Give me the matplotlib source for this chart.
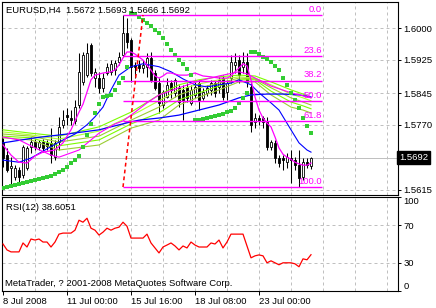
import matplotlib
matplotlib.use("Agg")
import matplotlib.pyplot as plt
import matplotlib.transforms as mtransforms

plt.rcParams['font.family'] = ['Liberation Sans', 'DejaVu Sans']

# ---- EURUSD H4 candles (one entry per bar) ----
opens = [1.5729, 1.5698, 1.5667, 1.5646, 1.5662, 1.5651, 1.5667, 1.5717, 1.5729, 1.5717,
         1.5729, 1.5727, 1.5727, 1.5693, 1.5729, 1.5770, 1.5793, 1.5786, 1.5779, 1.5817,
         1.5872, 1.5888, 1.5960, 1.5881, 1.5881, 1.5858, 1.5893, 1.5896, 1.5900, 1.5919,
         1.5936, 1.5988, 1.5972, 1.5912, 1.5912, 1.5905, 1.5908, 1.5929, 1.5893, 1.5869,
         1.5817, 1.5836, 1.5869, 1.5846, 1.5858, 1.5853, 1.5860, 1.5822, 1.5841, 1.5869,
         1.5834, 1.5846, 1.5853, 1.5869, 1.5860, 1.5881, 1.5848, 1.5881, 1.5912, 1.5924,
         1.5908, 1.5919, 1.5860, 1.5777, 1.5786, 1.5786, 1.5777, 1.5717, 1.5727, 1.5691,
         1.5691, 1.5681, 1.5691, 1.5686, 1.5674, 1.5646, 1.5681, 1.5672]
highs = [1.5739, 1.5715, 1.5693, 1.5674, 1.5670, 1.5722, 1.5720, 1.5741, 1.5736, 1.5734,
         1.5736, 1.5734, 1.5762, 1.5734, 1.5789, 1.5805, 1.5810, 1.5805, 1.5829, 1.5941,
         1.5943, 1.5965, 1.5965, 1.5905, 1.5896, 1.5893, 1.5917, 1.5924, 1.5924, 1.5943,
         1.6031, 1.6024, 1.5977, 1.5919, 1.5924, 1.5924, 1.5941, 1.5943, 1.5900, 1.5881,
         1.5853, 1.5881, 1.5877, 1.5881, 1.5865, 1.5865, 1.5869, 1.5865, 1.5872, 1.5877,
         1.5858, 1.5865, 1.5877, 1.5877, 1.5884, 1.5888, 1.5877, 1.5936, 1.5941, 1.5936,
         1.5943, 1.5941, 1.5869, 1.5798, 1.5793, 1.5791, 1.5789, 1.5734, 1.5734, 1.5698,
         1.5698, 1.5703, 1.5710, 1.5693, 1.5710, 1.5691, 1.5691, 1.5693]
lows = [1.5670, 1.5658, 1.5622, 1.5639, 1.5634, 1.5643, 1.5662, 1.5703, 1.5710, 1.5710,
        1.5705, 1.5710, 1.5679, 1.5686, 1.5710, 1.5762, 1.5770, 1.5770, 1.5772, 1.5810,
        1.5865, 1.5884, 1.5886, 1.5860, 1.5846, 1.5848, 1.5888, 1.5888, 1.5888, 1.5912,
        1.5931, 1.5953, 1.5872, 1.5881, 1.5896, 1.5893, 1.5884, 1.5872, 1.5853, 1.5798,
        1.5810, 1.5834, 1.5834, 1.5836, 1.5812, 1.5781, 1.5824, 1.5817, 1.5834, 1.5805,
        1.5829, 1.5838, 1.5841, 1.5836, 1.5846, 1.5829, 1.5829, 1.5869, 1.5893, 1.5869,
        1.5893, 1.5860, 1.5753, 1.5762, 1.5770, 1.5762, 1.5710, 1.5710, 1.5679, 1.5670,
        1.5662, 1.5667, 1.5631, 1.5662, 1.5622, 1.5639, 1.5667, 1.5666]
closes = [1.5691, 1.5662, 1.5672, 1.5667, 1.5646, 1.5717, 1.5715, 1.5729, 1.5717, 1.5729,
          1.5715, 1.5720, 1.5698, 1.5727, 1.5765, 1.5781, 1.5789, 1.5781, 1.5812, 1.5896,
          1.5936, 1.5941, 1.5893, 1.5896, 1.5858, 1.5881, 1.5908, 1.5915, 1.5917, 1.5931,
          1.5988, 1.5967, 1.5908, 1.5908, 1.5905, 1.5912, 1.5929, 1.5877, 1.5858, 1.5822,
          1.5848, 1.5865, 1.5853, 1.5877, 1.5824, 1.5829, 1.5834, 1.5853, 1.5860, 1.5829,
          1.5848, 1.5858, 1.5869, 1.5846, 1.5877, 1.5836, 1.5869, 1.5919, 1.5919, 1.5888,
          1.5919, 1.5872, 1.5770, 1.5786, 1.5779, 1.5777, 1.5717, 1.5729, 1.5691, 1.5679,
          1.5686, 1.5693, 1.5686, 1.5674, 1.5643, 1.5681, 1.5674, 1.5692]

# ---- parabolic SAR ----
sar = [1.5620, 1.5622, 1.5624, 1.5627, 1.5629, 1.5631, 1.5634, 1.5636, 1.5639, 1.5641,
       1.5643, 1.5646, 1.5648, 1.5653, 1.5658, 1.5662, 1.5670, 1.5679, 1.5686, 1.5696,
       1.5717, 1.5746, 1.5772, 1.5798, 1.5819, 1.5836, 1.5838, 1.5841, 1.5853, 1.5869,
       1.5881, 1.5908, 1.6036, 1.6034, 1.6027, 1.6019, 1.6012, 1.6005, 1.5996, 1.5988,
       1.5977, 1.5962, 1.5948, 1.5936, 1.5924, 1.5915, 1.5903, 1.5888, 1.5781, 1.5781,
       1.5784, 1.5786, 1.5789, 1.5791, 1.5793, 1.5796, 1.5800, 1.5803, 1.5810, 1.5822,
       1.5834, 1.5846, 1.5943, 1.5943, 1.5938, 1.5931, 1.5927, 1.5919, 1.5910, 1.5900,
       1.5881, 1.5865, 1.5846, 1.5829, 1.5810, 1.5786, 1.5767, 1.5750]

# ---- moving averages (bar index, price) ----
ma_fast_x = [0, 2, 4, 6, 8, 10, 13, 15, 17, 19, 20, 21, 22, 23, 25, 27, 28, 29, 30, 31,
             32, 33, 35, 36, 37, 38, 39, 40, 41, 42, 44, 46, 48, 50, 52, 54, 56, 57, 58, 59,
             60, 61, 62, 63, 64, 65, 66, 67, 68, 69, 70, 71, 72, 73, 74, 75, 76, 77]
ma_fast = [1.5722, 1.5698, 1.5681, 1.5679, 1.5696, 1.5705, 1.5710, 1.5727, 1.5758, 1.5800,
           1.5819, 1.5848, 1.5877, 1.5888, 1.5893, 1.5896, 1.5900, 1.5912, 1.5929, 1.5943,
           1.5943, 1.5938, 1.5924, 1.5912, 1.5900, 1.5886, 1.5881, 1.5886, 1.5893, 1.5893,
           1.5888, 1.5888, 1.5893, 1.5886, 1.5884, 1.5881, 1.5881, 1.5886, 1.5896, 1.5905,
           1.5915, 1.5910, 1.5877, 1.5836, 1.5805, 1.5786, 1.5774, 1.5765, 1.5741, 1.5715,
           1.5700, 1.5693, 1.5688, 1.5681, 1.5677, 1.5674, 1.5674, 1.5679]
ma_slow_x = [0, 4, 8, 12, 14, 19, 24, 28, 30, 33, 36, 39, 44, 49, 54, 59, 61, 63, 67, 72, 75, 77]
ma_slow = [1.5741, 1.5734, 1.5715, 1.5698, 1.5693, 1.5710, 1.5750, 1.5772, 1.5779, 1.5800,
           1.5822, 1.5841, 1.5858, 1.5874, 1.5886, 1.5896, 1.5891, 1.5881, 1.5862, 1.5846,
           1.5839, 1.5834]
blue_mid_x = [0, 4, 7, 14, 18, 21, 23, 25, 27, 29, 32, 35, 39, 42, 45, 48, 51, 54, 57, 59,
              62, 64, 67, 69, 72, 74, 76, 77]
blue_mid = [1.5686, 1.5681, 1.5691, 1.5729, 1.5748, 1.5770, 1.5789, 1.5812, 1.5853, 1.5888,
            1.5908, 1.5915, 1.5908, 1.5896, 1.5879, 1.5865, 1.5860, 1.5865, 1.5869, 1.5877,
            1.5865, 1.5846, 1.5822, 1.5805, 1.5758, 1.5727, 1.5710, 1.5705]
blue_long_x = [0, 8, 16, 24, 32, 34, 39, 44, 49, 54, 59, 62, 66, 70, 74, 77]
blue_long = [1.5727, 1.5739, 1.5748, 1.5758, 1.5777, 1.5781, 1.5786, 1.5793, 1.5805, 1.5817,
             1.5834, 1.5841, 1.5843, 1.5843, 1.5841, 1.5836]

# ---- green MA ribbon ----
ribbon_x = [0, 7, 14, 24, 32, 39, 44, 49, 54, 59, 63, 67, 72, 75, 77]
ribbon_1 = [1.5758, 1.5750, 1.5743, 1.5765, 1.5800, 1.5841, 1.5865, 1.5877, 1.5884, 1.5888,
            1.5886, 1.5872, 1.5853, 1.5843, 1.5834]
ribbon_2 = [1.5753, 1.5746, 1.5736, 1.5755, 1.5791, 1.5827, 1.5853, 1.5867, 1.5877, 1.5884,
            1.5881, 1.5865, 1.5843, 1.5834, 1.5827]
ribbon_3 = [1.5748, 1.5743, 1.5729, 1.5743, 1.5781, 1.5812, 1.5841, 1.5858, 1.5869, 1.5881,
            1.5879, 1.5858, 1.5834, 1.5824, 1.5817]
ribbon_4 = [1.5743, 1.5739, 1.5720, 1.5734, 1.5772, 1.5798, 1.5829, 1.5846, 1.5862, 1.5877,
            1.5877, 1.5850, 1.5824, 1.5815, 1.5808]
ribbon_5 = [1.5739, 1.5734, 1.5710, 1.5722, 1.5762, 1.5781, 1.5817, 1.5836, 1.5853, 1.5872,
            1.5872, 1.5841, 1.5812, 1.5805, 1.5798]

# ---- Fibonacci retracement ----
fib_labels = ['0.0', '23.6', '38.2', '50.0', '61.8', '100.0']
fib_prices = [1.6031, 1.5934, 1.5875, 1.5827, 1.5778, 1.5622]
fib_start, fib_end = 30, 79.75
fib_trend_x = [30, 35]
fib_trend_y = [1.5622, 1.6031]

# ---- RSI(12) ----
rsi = [50.0, 43.7, 41.6, 41.6, 41.6, 51.1, 46.8, 55.3, 54.2, 55.3,
       52.1, 52.1, 46.8, 52.1, 60.5, 61.6, 61.6, 61.6, 64.7, 75.3,
       73.2, 77.4, 66.8, 64.7, 59.5, 62.6, 66.8, 64.7, 66.8, 67.9,
       73.2, 68.9, 56.3, 56.3, 56.3, 56.3, 60.5, 51.1, 45.8, 40.5,
       46.8, 48.9, 51.1, 47.9, 43.7, 47.9, 45.8, 52.1, 48.9, 46.8,
       46.8, 46.8, 51.1, 50.0, 54.2, 45.8, 52.1, 60.5, 60.5, 60.5,
       60.5, 47.9, 35.3, 37.4, 38.4, 37.4, 30.0, 32.1, 30.0, 27.9,
       30.0, 30.0, 30.0, 28.9, 25.8, 34.2, 33.2, 38.6]

price_ticks = [1.6000, 1.5925, 1.5845, 1.5770, 1.5615]
price_tick_labels = ['1.6000', '1.5925', '1.5845', '1.5770', '1.5615']
bid = 1.5692
rsi_ticks = [100, 70, 30, 0]
date_ticks = [0, 16, 32, 48, 64]
date_labels = ['8 Jul 2008', '11 Jul 00:00', '15 Jul 16:00', '18 Jul 08:00', '23 Jul 00:00']
grid_bars = list(range(8, 97, 8))

W, H = 436, 308
FS = 6.8
GRID = '#c0c0c0'
MAG = '#ff00ff'

fig = plt.figure(figsize=(W / 100, H / 100), dpi=100)
fig.patch.set_facecolor('white')


def px_axes(left, top, right, bottom):
    return fig.add_axes([left / W, 1 - bottom / H, (right - left) / W, (bottom - top) / H])


ax = px_axes(2, 2, 398, 195)
ax_rsi = px_axes(2, 197, 398, 291)

for a in (ax, ax_rsi):
    a.set_xlim(-0.25, 98.75)
    for s in a.spines.values():
        s.set_linewidth(0.8)
        s.set_color('black')
    a.yaxis.tick_right()
    a.tick_params(axis='y', length=2.2, width=0.7, pad=1.5, labelsize=FS)
    for xb in grid_bars:
        a.axvline(xb, color=GRID, lw=0.72, ls=(0, (3, 3)), zorder=0)

# main panel
ax.set_ylim(1.56031, 1.60618)
ax.set_xticks([])
ax.set_yticks(price_ticks)
ax.set_yticklabels(price_tick_labels)
for p in price_ticks:
    ax.axhline(p, color=GRID, lw=0.72, ls=(0, (3, 3)), zorder=0)
ax.axhline(bid, color=GRID, lw=0.72, zorder=0.5)

idx = list(range(len(opens)))
bull = [c >= o for o, c in zip(opens, closes)]
ax.vlines(idx, lows, highs, color='black', lw=0.75, zorder=2)
ax.bar(idx, [abs(c - o) for o, c in zip(opens, closes)],
       bottom=[min(o, c) for o, c in zip(opens, closes)], width=0.62,
       color=['white' if b else 'black' for b in bull], edgecolor='black',
       linewidth=0.6, zorder=3)

ribbon_colors = ['#7cfc00', '#adff2f', '#9acd32', '#7cfc00', '#9acd32']
for vals, col in zip([ribbon_1, ribbon_2, ribbon_3, ribbon_4, ribbon_5], ribbon_colors):
    ax.plot(ribbon_x, vals, color=col, lw=0.8, zorder=4)
ax.plot(blue_long_x, blue_long, color='#0000ff', lw=0.9, zorder=4)
ax.plot(blue_mid_x, blue_mid, color='#0000ff', lw=0.8, zorder=4)
ax.plot(ma_slow_x, ma_slow, color=MAG, lw=0.8, zorder=4)
ax.plot(ma_fast_x, ma_fast, color=MAG, lw=0.9, zorder=4)
ax.plot(idx, sar, ls='none', marker='s', ms=2.3, mew=0, color='#33cc33', zorder=5)

# fibonacci object
for lab, p in zip(fib_labels, fib_prices):
    ax.hlines(p, fib_start, fib_end, color=MAG, lw=1.0, zorder=5)
    ax.annotate(lab, xy=(fib_end, p), xytext=(0, 0.8), textcoords='offset points',
                ha='right', va='bottom', color=MAG, fontsize=FS, zorder=6)
ax.plot(fib_trend_x, fib_trend_y, color='red', lw=1.1, ls=(0, (2.5, 2)), zorder=5)

# bid price box
blend = mtransforms.blended_transform_factory(ax.transAxes, ax.transData)
ax.text(1.003, bid, '1.5692', transform=blend, color='white', fontsize=FS,
        va='center', ha='left', clip_on=False, zorder=10,
        bbox=dict(boxstyle='square,pad=0.22', fc='black', ec='black'))

# RSI panel
ax_rsi.set_ylim(0, 100)
ax_rsi.plot(idx, rsi, color='red', lw=0.9, zorder=3)
for lvl in (70, 30):
    ax_rsi.axhline(lvl, color=GRID, lw=0.72, ls=(0, (3, 3)), zorder=0)
ax_rsi.set_yticks(rsi_ticks)
ax_rsi.set_yticklabels([str(t) for t in rsi_ticks])
ylabs = ax_rsi.get_yticklabels()
ylabs[0].set_va('top')
ylabs[-1].set_va('bottom')
ax_rsi.set_xticks(date_ticks)
ax_rsi.set_xticklabels(date_labels, ha='left')
ax_rsi.tick_params(axis='x', length=3, width=0.7, pad=1, labelsize=FS)


def fx(x):
    return x / W


def fy(y):
    return 1 - y / H


fig.text(fx(6), fy(10), 'EURUSD,H4  1.5672 1.5693 1.5666 1.5692', fontsize=FS, va='center')
fig.text(fx(6), fy(207), 'RSI(12) 38.6051', fontsize=FS, va='center')
fig.text(fx(5), fy(283), 'MetaTrader, ? 2001-2008 MetaQuotes Software Corp.', fontsize=FS, va='center')

fig.savefig('out.png', dpi=100, facecolor='white')
